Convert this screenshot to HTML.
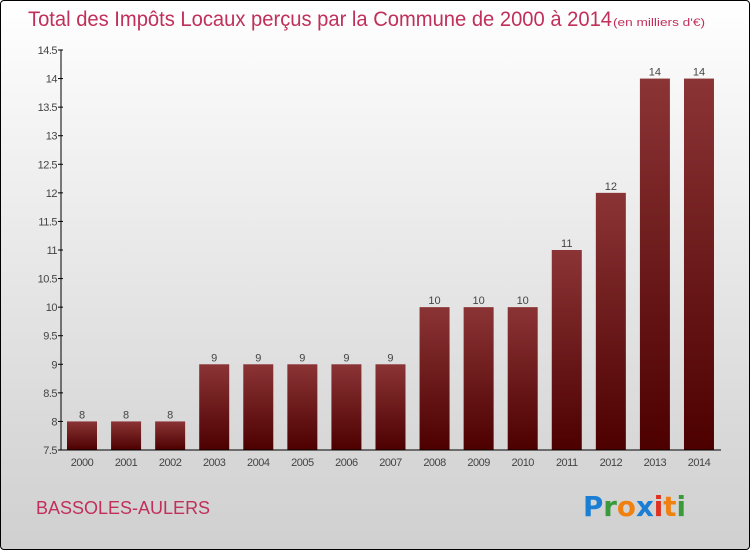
<!DOCTYPE html>
<html><head><meta charset="utf-8"><style>
body{margin:0;width:750px;height:550px;overflow:hidden;font-family:"Liberation Sans",sans-serif}
#bg{position:absolute;left:0;top:0;width:748px;height:548px;border:1px solid #000;border-radius:4px;background:linear-gradient(#ffffff 0%,#f0f0f0 30%,#d8d8d8 80%,#d0d0d0 100%)}
</style></head><body>
<div id="bg"></div>
<svg id="c" width="750" height="550" style="position:absolute;left:0;top:0">
<defs><linearGradient id="bar" x1="0" y1="0" x2="0" y2="1"><stop offset="0" stop-color="#8b3436"/><stop offset="1" stop-color="#4d0000"/></linearGradient></defs>
<text x="28" y="26" font-size="21" fill="#c0305a" textLength="584" lengthAdjust="spacingAndGlyphs">Total des Impôts Locaux perçus par la Commune de 2000 à 2014</text>
<text x="613" y="26" font-size="11" fill="#c0305a" textLength="92" lengthAdjust="spacingAndGlyphs">(en milliers d'€)</text>
<text x="36" y="514" font-size="18" fill="#c0305a">BASSOLES-AULERS</text>
<g font-size="28" font-weight="bold" font-family="'DejaVu Sans',sans-serif">
<text x="583" y="516" textLength="103" lengthAdjust="spacingAndGlyphs"><tspan fill="#1a7fd4">P</tspan><tspan fill="#3a9a3a">r</tspan><tspan fill="#f08010">o</tspan><tspan fill="#1a7fd4">x</tspan><tspan fill="#e03020">i</tspan><tspan fill="#f08010">t</tspan><tspan fill="#3a9a3a">i</tspan></text></g>
</svg>
<script>
const years=['2000','2001','2002','2003','2004','2005','2006','2007','2008','2009','2010','2011','2012','2013','2014'];
const values=[8,8,8,9,9,9,9,9,10,10,10,11,12,14,14];
const labels=['8','8','8','9','9','9','9','9','10','10','10','11','12','14','14'];
const ticks=[7.5,8,8.5,9,9.5,10,10.5,11,11.5,12,12.5,13,13.5,14,14.5];
const svg=document.getElementById('c'),NS='http://www.w3.org/2000/svg';
const y=v=>450-(v-7.5)/7*400, x=i=>67+i*44.07;
function mk(t,a,txt){const e=document.createElementNS(NS,t);for(const k in a)e.setAttribute(k,a[k]);if(txt!=null)e.textContent=txt;svg.appendChild(e);return e;}
ticks.forEach(t=>{
 const l=mk('line',{x1:58,x2:63,y1:y(t),y2:y(t),stroke:'#000'});
 
 
 const tx=mk('text',{x:57,y:y(t)+4,'font-size':11,'text-anchor':'end',fill:'#444','letter-spacing':'-0.5'},String(t));
 
 
});
values.forEach((v,i)=>{
 const r=mk('rect',{x:x(i),y:y(v),width:30,height:450-y(v),fill:'url(#bar)'});
 
 
 const vl=mk('text',{x:x(i)+15,y:y(v)-3,'font-size':11,'text-anchor':'middle',fill:'#444'},labels[i]);
 
 
 const xl=mk('text',{x:x(i)+15,y:466,'font-size':11,'text-anchor':'middle',fill:'#444','letter-spacing':'-0.5'},years[i]);
 
 
});
const ya=mk('line',{x1:61,x2:61,y1:50,y2:450,stroke:'#000'});


const xa=mk('line',{x1:61,x2:721,y1:450,y2:450,stroke:'#000'});


</script>
</body></html>
